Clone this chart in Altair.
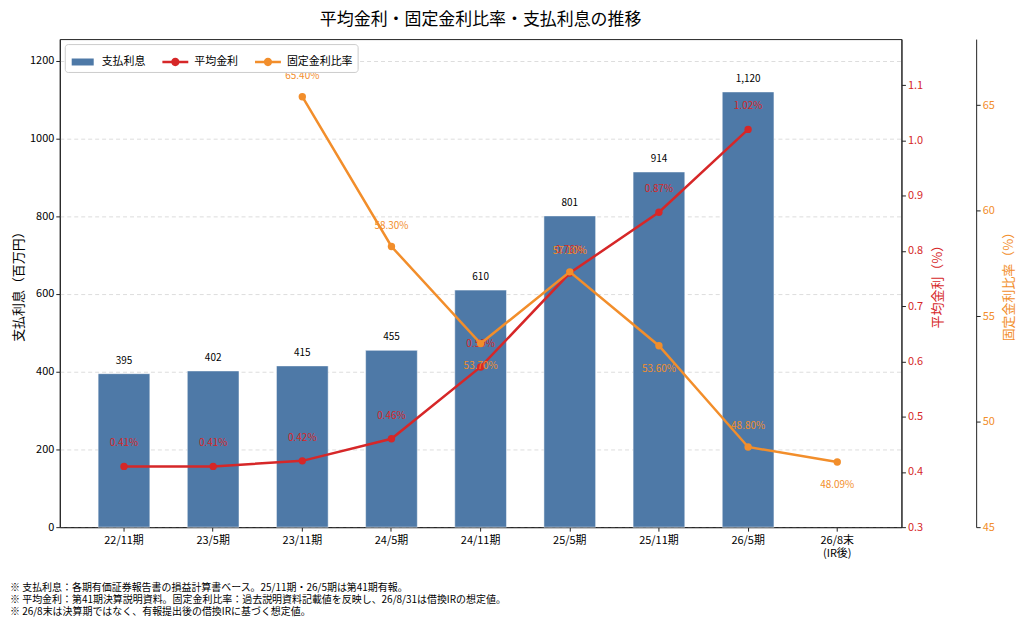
import altair as alt
import pandas as pd

FONT = "Noto Sans CJK JP"

# ---- data ----
periods = ["22/11期", "23/5期", "23/11期", "24/5期", "24/11期", "25/5期",
           "25/11期", "26/5期", "26/8末\n(IR後)"]
interest_paid = [395, 402, 415, 455, 610, 801, 914, 1120, None]      # 百万円
avg_rate = [0.41, 0.41, 0.42, 0.46, 0.59, 0.76, 0.87, 1.02, None]     # %
fixed_ratio = [None, None, 65.40, 58.30, 53.70, 57.10, 53.60, 48.80, 48.09]  # %
series_names = ["支払利息", "平均金利", "固定金利比率"]
footnotes = [
    "※ 支払利息：各期有価証券報告書の損益計算書ベース。25/11期・26/5期は第41期有報。",
    "※ 平均金利：第41期決算説明資料。固定金利比率：過去説明資料記載値を反映し、26/8/31は借換IRの想定値。",
    "※ 26/8末は決算期ではなく、有報提出後の借換IRに基づく想定値。",
]
# label placement style for the fixed-ratio labels
fixed_label_below = ["24/11期", "25/11期", "26/8末\n(IR後)"]

BLUE = "#4e79a7"
RED = "#d62728"
ORANGE = "#f28e2b"
AXC = "#222222"
PLOT_W, PLOT_H = 845, 490

df = pd.DataFrame({"period": periods, "interest": interest_paid,
                   "rate": avg_rate, "fixed": fixed_ratio})
df["below"] = df["period"].isin(fixed_label_below)

base = alt.Chart(df)

x_enc = alt.X(
    "period:N", sort=periods, title=None,
    scale=alt.Scale(paddingInner=0.42, paddingOuter=0.43),
    axis=alt.Axis(labelExpr="split(datum.label, '\\n')", labelAngle=0,
                  labelFontSize=11, labelColor="black", tickColor=AXC,
                  domainColor=AXC, tickSize=4, labelPadding=3,
                  labelLineHeight=13, grid=False),
)

# ---- bars (left axis) ----
y_bar = alt.Y(
    "interest:Q",
    scale=alt.Scale(domain=[0, 1256], nice=False),
    axis=alt.Axis(title="支払利息（百万円）", orient="left",
                  values=[0, 200, 400, 600, 800, 1000, 1200], format="d",
                  grid=True, gridDash=[4, 3], gridColor="#dddddd",
                  labelFontSize=11, labelColor="black", titleFontSize=13,
                  titleFontWeight="normal", titleColor="black",
                  tickColor=AXC, domainColor=AXC, tickSize=4, titlePadding=4),
)
bars = base.transform_filter("isValid(datum.interest)").mark_bar(
    color=BLUE, stroke="white", strokeOpacity=0.5, strokeWidth=1
).encode(x=x_enc, y=y_bar)
bar_text = base.transform_filter("isValid(datum.interest)").transform_calculate(
    lbl="format(datum.interest, ',')"
).mark_text(dy=-13, fontSize=10, color="black", font=FONT).encode(
    x=x_enc, y=y_bar, text="lbl:N")
bar_layer = alt.layer(bars, bar_text)

# ---- average rate (right axis) ----
y_rate = alt.Y(
    "rate:Q",
    scale=alt.Scale(domain=[0.3, 1.1835], nice=False, zero=False),
    axis=alt.Axis(title="平均金利（%）", orient="right", titleAngle=270,
                  titleBaseline="top",
                  values=[0.3, 0.4, 0.5, 0.6, 0.7, 0.8, 0.9, 1.0, 1.1],
                  format=".1f", grid=False, labelFontSize=11, labelColor=RED,
                  titleColor=RED, titleFontSize=13, titleFontWeight="normal",
                  tickColor=AXC, domainColor=AXC, tickSize=4, titlePadding=9),
)
rate_base = base.transform_filter("isValid(datum.rate)")
rate_line = rate_base.mark_line(color=RED, strokeWidth=2.5).encode(x=x_enc, y=y_rate)
rate_pts = rate_base.mark_point(color=RED, filled=True, size=55, opacity=1).encode(x=x_enc, y=y_rate)
rate_text = rate_base.transform_calculate(
    lbl="format(datum.rate, '.2f') + '%'"
).mark_text(dy=-23, fontSize=10, color=RED, font=FONT).encode(x=x_enc, y=y_rate, text="lbl:N")
rate_layer = alt.layer(rate_line, rate_pts, rate_text)

# ---- fixed ratio (second right axis) ----
y_fixed = alt.Y(
    "fixed:Q",
    scale=alt.Scale(domain=[45, 68.13], nice=False, zero=False),
    axis=alt.Axis(title="固定金利比率（%）", orient="right", offset=75, titleAngle=270,
                  titleBaseline="top",
                  values=[45, 50, 55, 60, 65], grid=False, labelFontSize=11,
                  labelColor=ORANGE, titleColor=ORANGE, titleFontSize=13,
                  titleFontWeight="normal", tickColor=AXC, domainColor=AXC,
                  tickSize=4, titlePadding=8),
)
fixed_base = base.transform_filter("isValid(datum.fixed)")
fixed_line = fixed_base.mark_line(color=ORANGE, strokeWidth=2.5).encode(x=x_enc, y=y_fixed)
fixed_pts = fixed_base.mark_point(color=ORANGE, filled=True, size=55, opacity=1).encode(x=x_enc, y=y_fixed)
fixed_lbl = fixed_base.transform_calculate(lbl="format(datum.fixed, '.2f') + '%'")
fixed_text_up = fixed_lbl.transform_filter("!datum.below").mark_text(
    dy=-21, fontSize=10, color=ORANGE, font=FONT).encode(x=x_enc, y=y_fixed, text="lbl:N")
fixed_text_dn = fixed_lbl.transform_filter("datum.below").mark_text(
    dy=23, fontSize=10, color=ORANGE, font=FONT).encode(x=x_enc, y=y_fixed, text="lbl:N")
fixed_layer = alt.layer(fixed_line, fixed_pts, fixed_text_up, fixed_text_dn)

# ---- legend (scale-driven, no marks drawn) ----
bar_sym = "M-0.85,-0.27H0.85V0.27H-0.85Z"
line_sym = ("M-1,-0.1H1V0.1H-1Z "
            "M0.32,0A0.32,0.32 0 1 1 -0.32,0A0.32,0.32 0 1 1 0.32,0Z")
legend_df = pd.DataFrame({"series": series_names})
legend_layer = alt.Chart(legend_df).transform_filter("false").mark_point(
    filled=True, opacity=1
).encode(
    color=alt.Color("series:N",
                    scale=alt.Scale(domain=series_names, range=[BLUE, RED, ORANGE]),
                    legend=alt.Legend(orient="top-left", direction="horizontal",
                                      columns=3, title=None, offset=5, padding=5,
                                      strokeColor="#cccccc", fillColor="white",
                                      cornerRadius=3, labelFontSize=11,
                                      labelFont=FONT, labelColor="black",
                                      symbolSize=676, symbolStrokeWidth=0,
                                      symbolOpacity=1, columnPadding=17,
                                      labelOffset=6)),
    shape=alt.Shape("series:N",
                    scale=alt.Scale(domain=series_names,
                                    range=[bar_sym, line_sym, line_sym])),
)

# ---- footnotes ----
foot_df = pd.DataFrame({"t": ["\n".join(footnotes)]})
foot_layer = alt.Chart(foot_df).mark_text(
    align="left", baseline="top", fontSize=10, font=FONT, color="black",
    lineBreak="\n", lineHeight=12,
).encode(text="t:N", x=alt.value(-50), y=alt.value(PLOT_H + 56))

chart = alt.layer(
    bar_layer, rate_layer, fixed_layer, legend_layer, foot_layer
).resolve_scale(y="independent").properties(
    width=PLOT_W, height=PLOT_H,
    padding={"left": 2, "top": 2, "right": 0, "bottom": 0},
    title=alt.TitleParams("平均金利・固定金利比率・支払利息の推移", fontSize=17,
                          font=FONT, fontWeight="normal", anchor="middle",
                          frame="group", offset=10, color="black"),
).configure_view(stroke=AXC, strokeWidth=1).configure_axis(
    labelFont=FONT, titleFont=FONT
).configure_text(font=FONT)

chart.save("out.html", embed_options={"renderer": "svg", "actions": False})
